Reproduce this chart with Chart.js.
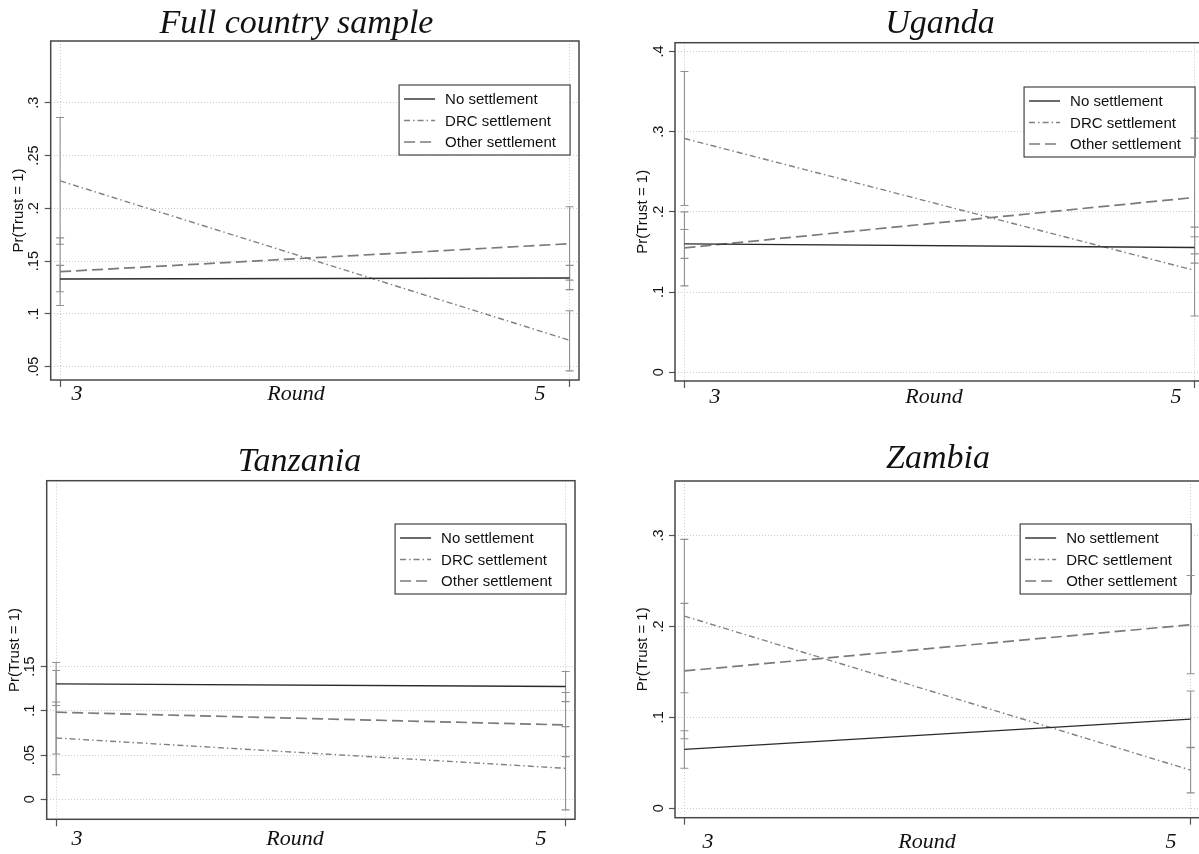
<!DOCTYPE html>
<html><head><meta charset="utf-8">
<script src="https://cdn.jsdelivr.net/npm/chart.js@4.4.1/dist/chart.umd.min.js"></script>
<style>
html,body{margin:0;padding:0;background:#fff;overflow:hidden;width:1199px;height:854px;}
canvas{position:absolute;left:0;top:0;}
</style></head><body>
<canvas id="c0"></canvas><canvas id="c1"></canvas><canvas id="c2"></canvas><canvas id="c3"></canvas>
<script>
// ---------- data ----------
const rounds = [3, 5];
const seriesNames = ['No settlement', 'DRC settlement', 'Other settlement'];

// Full country sample
const fullNo = [0.133, 0.134], fullNoLo = [0.121, 0.123], fullNoHi = [0.146, 0.146];
const fullDrc = [0.226, 0.075], fullDrcLo = [0.166, 0.046], fullDrcHi = [0.286, 0.103];
const fullOther = [0.140, 0.1665], fullOtherLo = [0.108, 0.132], fullOtherHi = [0.172, 0.2015];
const fullTicks = [0.05, 0.1, 0.15, 0.2, 0.25, 0.3];
const fullTickLabels = ['.05', '.1', '.15', '.2', '.25', '.3'];

// Uganda
const ugNo = [0.160, 0.1555], ugNoLo = [0.142, 0.1476], ugNoHi = [0.178, 0.169];
const ugDrc = [0.2915, 0.127], ugDrcLo = [0.208, 0.070], ugDrcHi = [0.375, 0.181];
const ugOther = [0.155, 0.218], ugOtherLo = [0.1077, 0.136], ugOtherHi = [0.200, 0.292];
const ugTicks = [0, 0.1, 0.2, 0.3, 0.4];
const ugTickLabels = ['0', '.1', '.2', '.3', '.4'];

// Tanzania
const tzNo = [0.1304, 0.1274], tzNoLo = [0.106, 0.1104], tzNoHi = [0.1545, 0.1444];
const tzDrc = [0.0693, 0.035], tzDrcLo = [0.0279, -0.012], tzDrcHi = [0.110, 0.0821];
const tzOther = [0.0984, 0.084], tzOtherLo = [0.0512, 0.0482], tzOtherHi = [0.1455, 0.1206];
const tzTicks = [0, 0.05, 0.1, 0.15];
const tzTickLabels = ['0', '.05', '.1', '.15'];

// Zambia
const zmNo = [0.0648, 0.098], zmNoLo = [0.044, 0.0666], zmNoHi = [0.0853, 0.129];
const zmDrc = [0.2113, 0.042], zmDrcLo = [0.127, 0.017], zmDrcHi = [0.2956, 0.067];
const zmOther = [0.151, 0.2018], zmOtherLo = [0.0765, 0.148], zmOtherHi = [0.2253, 0.256];
const zmTicks = [0, 0.1, 0.2, 0.3];
const zmTickLabels = ['0', '.1', '.2', '.3'];

const xTickLabels = ['3', '5'];
const xTitle = 'Round';
const yTitle = 'Pr(Trust = 1)';

// ---------- layout / style ----------
const W = 1210, H = 854;
const SERIF = '"Liberation Serif", "DejaVu Serif", serif';
const SANS = '"Liberation Sans", Arial, sans-serif';
const styles = [
  {color: '#2a2a2a', width: 1.4, dash: []},
  {color: '#808080', width: 1.4, dash: [6, 3, 1.5, 3]},
  {color: '#7a7a7a', width: 1.7, dash: [11, 5]}
];

const panels = [
  {title: 'Full country sample', series: [fullNo, fullDrc, fullOther], lo: [fullNoLo, fullDrcLo, fullOtherLo], hi: [fullNoHi, fullDrcHi, fullOtherHi],
   ticks: fullTicks, tickLabels: fullTickLabels, yMin: 0.0374, yMax: 0.3585,
   area: {l: 50.7, t: 41, r: 579, b: 380},
   titleX: 296.5, titleY: 33, xlabY: 400, xlab: [77, 540], roundX: 296, legendTop: 85},
  {title: 'Uganda', series: [ugNo, ugDrc, ugOther], lo: [ugNoLo, ugDrcLo, ugOtherLo], hi: [ugNoHi, ugDrcHi, ugOtherHi],
   ticks: ugTicks, tickLabels: ugTickLabels, yMin: -0.011, yMax: 0.411,
   area: {l: 675, t: 42.7, r: 1204, b: 381},
   titleX: 940, titleY: 33, xlabY: 403, xlab: [715, 1176], roundX: 934, legendTop: 87},
  {title: 'Tanzania', series: [tzNo, tzDrc, tzOther], lo: [tzNoLo, tzDrcLo, tzOtherLo], hi: [tzNoHi, tzDrcHi, tzOtherHi],
   ticks: tzTicks, tickLabels: tzTickLabels, yMin: -0.0226, yMax: 0.360,
   area: {l: 46.7, t: 480.7, r: 575, b: 819.3},
   titleX: 299.5, titleY: 471, xlabY: 845, xlab: [77, 541], roundX: 295, legendTop: 524},
  {title: 'Zambia', series: [zmNo, zmDrc, zmOther], lo: [zmNoLo, zmDrcLo, zmOtherLo], hi: [zmNoHi, zmDrcHi, zmOtherHi],
   ticks: zmTicks, tickLabels: zmTickLabels, yMin: -0.0103, yMax: 0.3598,
   area: {l: 675, t: 481, r: 1200, b: 817.7},
   titleX: 938, titleY: 468, xlabY: 848, xlab: [708, 1171], roundX: 927, legendTop: 524}
];

const stataPlugin = {
  id: 'stata',
  beforeDatasetsDraw(chart, args, opts) {
    const p = opts.panel, ctx = chart.ctx;
    const xs = chart.scales.x, ys = chart.scales.y;
    // legend box
    const lw = 171, lh = 70;
    const lr = xs.getPixelForValue(5) + 0.5;
    const ll = lr - lw, lt = p.legendTop;
    ctx.save();
    ctx.fillStyle = '#fff';
    ctx.fillRect(ll, lt, lw, lh);
    ctx.strokeStyle = '#444';
    ctx.lineWidth = 1.2;
    ctx.strokeRect(ll, lt, lw, lh);
    ctx.font = '15px ' + SANS;
    ctx.textBaseline = 'middle';
    ctx.fillStyle = '#111';
    for (let i = 0; i < 3; i++) {
      const cy = lt + 14 + i * 21.5;
      ctx.save();
      ctx.strokeStyle = styles[i].color;
      ctx.lineWidth = styles[i].width;
      ctx.setLineDash(styles[i].dash);
      ctx.beginPath();
      ctx.moveTo(ll + 5, cy); ctx.lineTo(ll + 36, cy);
      ctx.stroke();
      ctx.restore();
      ctx.fillText(seriesNames[i], ll + 46, cy + 1);
    }
    ctx.restore();
    // error bars
    ctx.save();
    ctx.strokeStyle = '#909090';
    ctx.lineWidth = 1.1;
    for (let s = 0; s < 3; s++) {
      for (let i = 0; i < rounds.length; i++) {
        const x = xs.getPixelForValue(rounds[i]);
        const y1 = ys.getPixelForValue(p.lo[s][i]);
        const y2 = ys.getPixelForValue(p.hi[s][i]);
        ctx.beginPath();
        ctx.moveTo(x, y1); ctx.lineTo(x, y2);
        ctx.moveTo(x - 4, y1); ctx.lineTo(x + 4, y1);
        ctx.moveTo(x - 4, y2); ctx.lineTo(x + 4, y2);
        ctx.stroke();
      }
    }
    ctx.restore();
  },
  afterDraw(chart, args, opts) {
    const p = opts.panel, ctx = chart.ctx, a = chart.chartArea;
    const ys = chart.scales.y;
    ctx.save();
    // frame
    ctx.strokeStyle = '#474747';
    ctx.lineWidth = 1.5;
    ctx.strokeRect(a.left, a.top, a.right - a.left, a.bottom - a.top);
    // title
    ctx.fillStyle = '#111';
    ctx.font = 'italic 34px ' + SERIF;
    ctx.textAlign = 'center';
    ctx.textBaseline = 'alphabetic';
    ctx.fillText(p.title, p.titleX, p.titleY);
    // x labels
    ctx.font = 'italic 22px ' + SERIF;
    ctx.fillText(xTickLabels[0], p.xlab[0], p.xlabY);
    ctx.fillText(xTickLabels[1], p.xlab[1], p.xlabY);
    ctx.fillText(xTitle, p.roundX, p.xlabY);
    // y tick labels (rotated)
    ctx.font = '14.5px ' + SANS;
    ctx.textBaseline = 'middle';
    for (let i = 0; i < p.ticks.length; i++) {
      const y = ys.getPixelForValue(p.ticks[i]);
      ctx.save();
      ctx.translate(a.left - 16.5, y);
      ctx.rotate(-Math.PI / 2);
      ctx.fillText(p.tickLabels[i], 0, 0);
      ctx.restore();
    }
    // y title
    ctx.font = '15px ' + SANS;
    ctx.save();
    ctx.translate(a.left - 32, (a.top + a.bottom) / 2);
    ctx.rotate(-Math.PI / 2);
    ctx.fillText(yTitle, 0, 0);
    ctx.restore();
    ctx.restore();
  }
};

panels.forEach((p, k) => {
  const cv = document.getElementById('c' + k);
  cv.width = W; cv.height = H;
  cv.style.width = W + 'px'; cv.style.height = H + 'px';
  const datasets = p.series.map((vals, s) => ({
    label: seriesNames[s],
    data: rounds.map((r, i) => ({x: r, y: vals[i]})),
    borderColor: styles[s].color,
    borderWidth: styles[s].width,
    borderDash: styles[s].dash,
    pointRadius: 0,
    fill: false,
    tension: 0
  }));
  new Chart(cv, {
    type: 'line',
    data: {datasets},
    plugins: [stataPlugin],
    options: {
      responsive: false,
      animation: false,
      devicePixelRatio: 1,
      layout: {padding: {left: p.area.l, top: p.area.t, right: W - p.area.r, bottom: H - p.area.b}, autoPadding: false},
      plugins: {legend: {display: false}, tooltip: {enabled: false}, stata: {panel: p}},
      scales: {
        x: {
          type: 'linear', min: 2.963, max: 5.037,
          afterBuildTicks: s => { s.ticks = rounds.map(v => ({value: v})); },
          afterFit: s => { s.height = 0; },
          ticks: {display: false},
          grid: {color: '#cccccc', lineWidth: 1, drawTicks: true, tickLength: 7, tickColor: '#555', tickWidth: 1.2},
          border: {display: false, dash: [1, 2]}
        },
        y: {
          type: 'linear', min: p.yMin, max: p.yMax,
          afterBuildTicks: s => { s.ticks = p.ticks.map(v => ({value: v})); },
          afterFit: s => { s.width = 0; },
          ticks: {display: false},
          grid: {color: '#cccccc', lineWidth: 1, drawTicks: true, tickLength: 6, tickColor: '#555', tickWidth: 1.2},
          border: {display: false, dash: [1, 2]}
        }
      }
    }
  });
});
</script>
</body></html>
